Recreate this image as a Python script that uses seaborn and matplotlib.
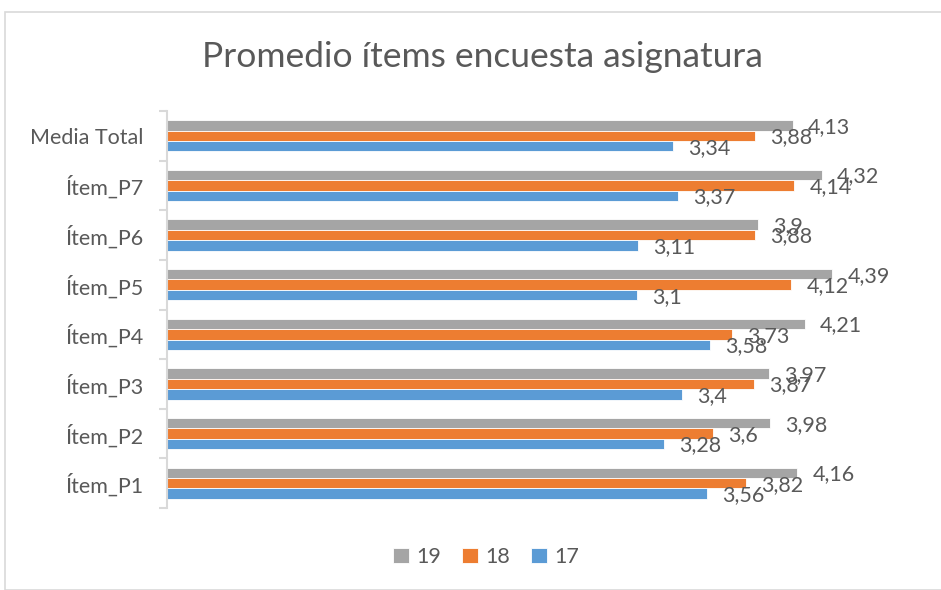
import seaborn as sns
import matplotlib.pyplot as plt
import matplotlib.patches as mpatches
import pandas as pd

# categories top to bottom as drawn
categorias = ["Media Total", "Ítem_P7", "Ítem_P6", "Ítem_P5", "Ítem_P4", "Ítem_P3", "Ítem_P2", "Ítem_P1"]
series = ["19", "18", "17"]
valores_19 = [4.13, 4.32, 3.90, 4.39, 4.21, 3.97, 3.98, 4.16]
valores_18 = [3.88, 4.14, 3.88, 4.12, 3.73, 3.87, 3.60, 3.82]
valores_17 = [3.34, 3.37, 3.11, 3.10, 3.58, 3.40, 3.28, 3.56]
colores = ["#A5A5A5", "#ED7D31", "#5B9BD5"]

df = pd.DataFrame({
    "categoria": categorias * 3,
    "serie": [s for s in series for _ in categorias],
    "valor": valores_19 + valores_18 + valores_17,
})

sns.set_theme(style="white")
plt.rcParams["font.family"] = ["Lato", "DejaVu Sans"]
texto = "#595959"

fig = plt.figure(figsize=(9.41, 5.90), dpi=100)
fig.patches.append(mpatches.Rectangle((5 / 941, 0), 1, 1 - 12 / 590, transform=fig.transFigure,
                                      fill=False, edgecolor="#D9D9D9", linewidth=1.2))
ax = fig.add_axes([167 / 941, 1 - 508 / 590, 682 / 941, 397 / 590])

sns.barplot(data=df, y="categoria", x="valor", hue="serie", order=categorias,
            hue_order=series, palette=colores, saturation=1, orient="h", width=0.63,
            edgecolor="white", linewidth=0.6, ax=ax)

for cont in ax.containers:
    for bar in cont:
        v = bar.get_width()
        etiqueta = f"{v:.2f}".rstrip("0").rstrip(".").replace(".", ",")
        ax.text(v + 0.1, bar.get_y() + bar.get_height() / 2 + 0.03, etiqueta,
                ha="left", va="center", fontsize=15.5, color=texto, clip_on=False)

ax.set_xlim(0, 4.5)
ax.set_ylim(len(categorias) - 0.5, -0.5)
ax.set_xlabel("")
ax.set_ylabel("")
ax.set_xticks([])
for s in ["top", "right", "bottom"]:
    ax.spines[s].set_visible(False)
ax.spines["left"].set_color("#D9D9D9")
ax.spines["left"].set_linewidth(1.5)
ax.set_yticks(range(len(categorias)))
ax.set_yticklabels(categorias, fontsize=15.5, color=texto)
ax.set_yticks([i - 0.5 for i in range(len(categorias) + 1)], minor=True)
ax.tick_params(axis="y", which="major", length=0, pad=17)
ax.tick_params(axis="y", which="minor", length=6, width=1.5, color="#D9D9D9", left=True)

handles, labels = ax.get_legend_handles_labels()
ax.get_legend().remove()
fig.legend(handles, labels, loc="center", bbox_to_anchor=(486 / 941, 1 - 557 / 590), ncol=3,
           frameon=False, fontsize=15.5, handlelength=0.75, handleheight=0.75,
           handletextpad=0.3, columnspacing=1.0, labelcolor=texto)

fig.text(482 / 941, 1 - 57 / 590, "Promedio ítems encuesta asignatura", ha="center", va="center",
         fontsize=25.5, color=texto)

fig.savefig("out.png", dpi=100)
